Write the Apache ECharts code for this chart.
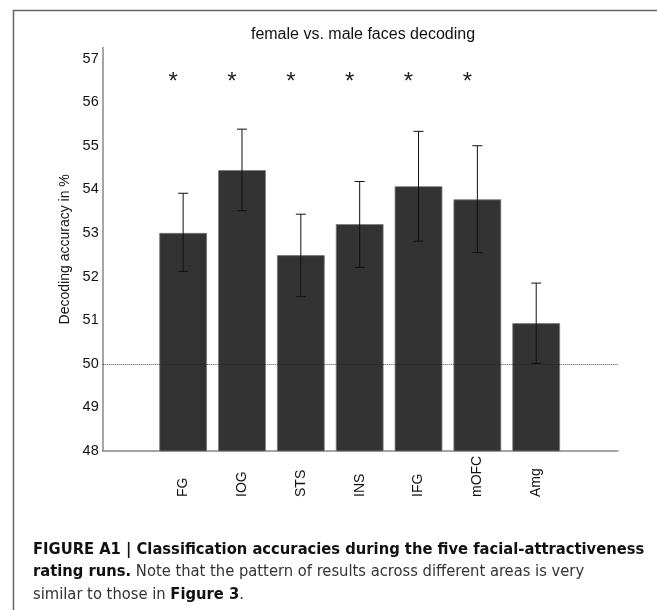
<!DOCTYPE html>
<html>
<head>
<meta charset="utf-8">
<script src="https://cdn.jsdelivr.net/npm/echarts@6/dist/echarts.min.js"></script>
<style>
html,body{margin:0;padding:0;background:#fff;}
#chart{width:657px;height:610px;}
</style>
</head>
<body>
<div id="chart"></div>
<script>
// ---- data ----
const categories = ['FG', 'IOG', 'STS', 'INS', 'IFG', 'mOFC', 'Amg'];
const accuracy = [53.0, 54.44, 52.49, 53.2, 54.07, 53.77, 50.93];
const errUpper = [53.91, 55.38, 53.43, 54.18, 55.33, 55.0, 51.85];
const errLower = [52.12, 53.51, 51.54, 52.21, 52.81, 52.55, 50.01];
const significant = [true, true, true, true, true, true, false];
const starLevel = 56.5;
const chanceLevel = 50;
const yTicks = [48, 49, 50, 51, 52, 53, 54, 55, 56, 57];
const chartTitle = 'female vs. male faces decoding';
const yAxisTitle = 'Decoding accuracy in %';

const positions = categories.map((c, i) => i + 1);
const barData = positions.map((x, i) => [x, accuracy[i]]);
const errData = positions.map((x, i) => [x, errLower[i], errUpper[i]]);
const starData = positions.filter((x, i) => significant[i]).map(x => [x, starLevel]);

const chart = echarts.init(document.getElementById('chart'), null, {renderer: 'canvas'});
const FONT = 'Liberation Sans, Arial, Helvetica, sans-serif';
const CAPFONT = "'Liberation Sans Narrow', 'DejaVu Sans Condensed', " + FONT;

const option = {
  animation: false,
  backgroundColor: '#fff',
  title: {
    text: chartTitle,
    left: 358,
    top: 22,
    textAlign: 'center',
    textStyle: {fontFamily: FONT, fontSize: 16, fontWeight: 'normal', color: '#111'}
  },
  grid: {left: 102.7, right: 39, top: 47.6, bottom: 159, containLabel: false},
  xAxis: {
    type: 'value',
    min: -0.367,
    max: 8.39,
    splitLine: {show: false},
    axisLine: {show: true, onZero: false, lineStyle: {color: '#888', width: 1.5}},
    axisTick: {show: false},
    axisLabel: {
      customValues: positions,
      formatter: v => categories[Math.round(v) - 1] || '',
      rotate: 90,
      align: 'left',
      verticalAlign: 'middle',
      margin: 46,
      fontFamily: FONT,
      fontSize: 14,
      color: '#111'
    }
  },
  yAxis: {
    type: 'value',
    min: 48,
    max: 57.25,
    name: yAxisTitle,
    nameLocation: 'middle',
    nameGap: 21,
    nameTextStyle: {fontFamily: FONT, fontSize: 14, color: '#111'},
    splitLine: {show: false},
    axisLine: {show: true, onZero: false, lineStyle: {color: '#888', width: 1.5}},
    axisTick: {show: false},
    axisLabel: {
      customValues: yTicks,
      margin: 4,
      fontFamily: FONT,
      fontSize: 14.5,
      color: '#111'
    }
  },
  series: [
    {
      type: 'bar',
      data: barData,
      barWidth: 47.7,
      itemStyle: {color: '#333333', borderColor: '#777', borderWidth: 0.8},
      markLine: {
        silent: true,
        symbol: 'none',
        label: {show: false},
        lineStyle: {color: '#222', type: [1, 1], width: 0.8},
        data: [{yAxis: chanceLevel}]
      },
      z: 2
    },
    {
      type: 'custom',
      data: errData,
      z: 5,
      renderItem: function (params, api) {
        const x = api.value(0);
        const lo = api.coord([x, api.value(1)]);
        const hi = api.coord([x, api.value(2)]);
        const cap = 5;
        const st = {stroke: '#111', lineWidth: 1, fill: null};
        return {
          type: 'group',
          children: [
            {type: 'line', shape: {x1: lo[0], y1: lo[1], x2: hi[0], y2: hi[1]}, style: st},
            {type: 'line', shape: {x1: hi[0] - cap, y1: hi[1], x2: hi[0] + cap, y2: hi[1]}, style: st},
            {type: 'line', shape: {x1: lo[0] - cap, y1: lo[1], x2: lo[0] + cap, y2: lo[1]}, style: st}
          ]
        };
      }
    },
    {
      type: 'custom',
      data: starData,
      z: 5,
      renderItem: function (params, api) {
        const p = api.coord([api.value(0), api.value(1)]);
        return {
          type: 'text',
          x: p[0] - 10,
          y: p[1] + 2.5,
          style: {text: '*', fontSize: 24, fontFamily: FONT, fill: '#222', align: 'center', verticalAlign: 'middle'}
        };
      }
    }
  ],
  graphic: [
    {
      type: 'polyline',
      shape: {points: [[13.5, 610], [13.5, 10.5], [657, 10.5]]},
      style: {stroke: '#666', lineWidth: 1.5, fill: null},
      silent: true
    },
    {
      type: 'text',
      left: 33,
      top: 538,
      style: {
        text: '{b|FIGURE A1 | Classification accuracies during the five facial-attractiveness}\n{b|rating runs.}{n| Note that the pattern of results across different areas is very}\n{n|similar to those in }{b|Figure 3}{n|.}',
        lineHeight: 22.5,
        rich: {
          b: {fontFamily: CAPFONT, fontWeight: 'bold', fontSize: 16.4, fill: '#111', lineHeight: 22.5},
          n: {fontFamily: CAPFONT, fontWeight: 'normal', fontSize: 16.4, fill: '#333', lineHeight: 22.5}
        }
      }
    }
  ]
};
chart.setOption(option);
</script>
</body>
</html>
